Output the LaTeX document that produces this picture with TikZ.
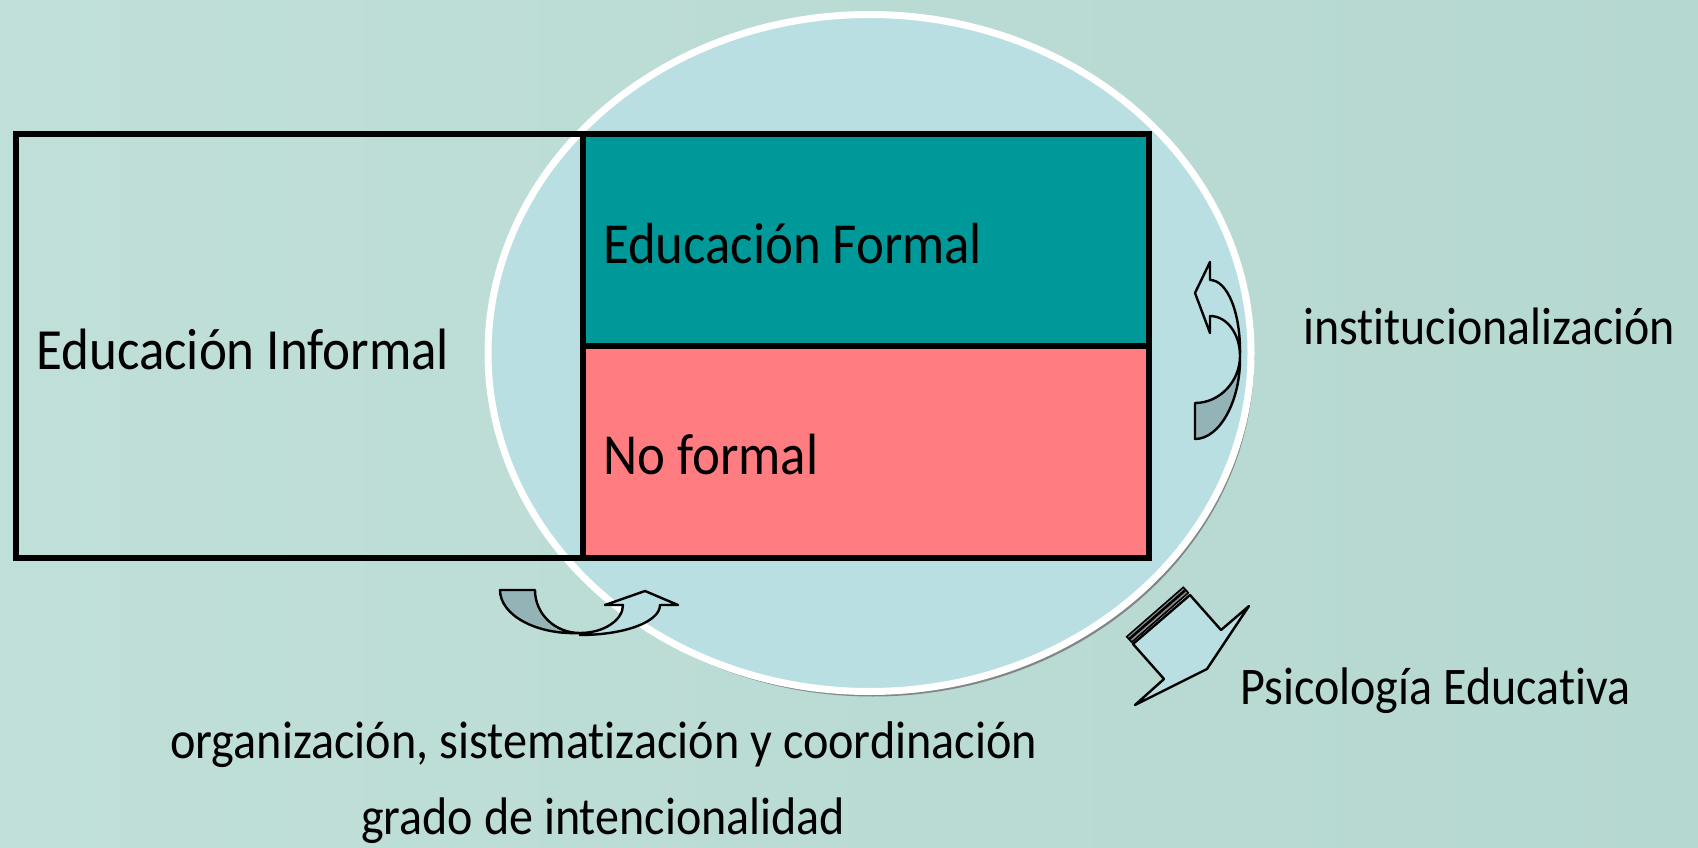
\documentclass[tikz,border=0pt]{standalone}
\usepackage{fontspec}
\setmainfont[Ligatures=NoCommon]{Carlito}
\usepackage{graphicx}
\definecolor{bgA}{HTML}{C0DFD9}
\definecolor{bgB}{HTML}{B5D8D0}
\definecolor{ellfill}{HTML}{B9DFE2}
\definecolor{teal}{HTML}{009999}
\definecolor{pinkbox}{HTML}{FF7C80}
\definecolor{darkarrow}{HTML}{94B3B6}
\newcommand\fitw[2]{\scalebox{1}[1.1]{\resizebox{#1pt}{!}{#2}}}
\tikzset{
  boxline/.style={draw=black, line width=6pt},
  arrowpart/.style={draw=black, line width=2.4pt, line join=round},
  stripe/.style={draw=black, line width=1.6pt, fill=black!45},
  lbl/.style={inner sep=0pt, anchor=base west, text=black},
}
\begin{document}
\begin{tikzpicture}[x=1pt,y=-1pt]
\useasboundingbox (0,0) rectangle (1698,848);
\shade[left color=bgA, right color=bgB] (0,0) rectangle (1698,848);
% ellipse with shadow
\fill[black!55, opacity=0.8] (872.5,358) ellipse [x radius=381.5, y radius=338.5];
\filldraw[fill=ellfill, draw=white, line width=7pt] (869.5,353) ellipse [x radius=381.5, y radius=338.5];
% boxes
\fill[teal] (583,134.5) rectangle (1149,346);
\fill[pinkbox] (583,346) rectangle (1149,558);
\draw[boxline] (16,134.5) rectangle (1149,558);
\draw[boxline] (583,134.5) -- (583,558);
\draw[boxline] (583,346) -- (1149,346);
% texts
\node[lbl] (formal) at (603,263) {\fitw{379}{Educación Formal}};
\node[lbl] (informal) at (36,369) {\fitw{413}{Educación Informal}};
\node[lbl] (noformal) at (603,474) {\fitw{215}{No formal}};
\node[lbl] (inst) at (1303,344) {\fitw{372}{institucionalización}};
\node[lbl] (psico) at (1240,704) {\fitw{390}{Psicología Educativa}};
\node[lbl] (org) at (170,758) {\fitw{867}{organización, sistematización y coordinación}};
\node[lbl] (grado) at (361,834) {\fitw{484}{grado de intencionalidad}};
% bottom-left curved arrow
\filldraw[arrowpart, fill=darkarrow] (500,590) -- (535,590) .. controls (535,614) and (555,633) .. (580,633) .. controls (536,635) and (500,615) .. (500,590) -- cycle;
\filldraw[arrowpart, fill=ellfill] (580,635) .. controls (624,635) and (660,622) .. (660,605) -- (678,605) -- (645,591) -- (605,605) -- (623,605) .. controls (623,620) and (604,633) .. (580,633) -- cycle;
% right curved arrow
\filldraw[arrowpart, fill=darkarrow] (1195,403) .. controls (1220,403) and (1240,381) .. (1240,356) .. controls (1241,400) and (1220,439) .. (1195,439) -- cycle;
\filldraw[arrowpart, fill=ellfill] (1240,356) .. controls (1241,312) and (1227,280) .. (1210,280) -- (1210,262) -- (1195,293) -- (1210,333) -- (1210,316) .. controls (1227,316) and (1240,334) .. (1240,356) -- cycle;
% striped block arrow
\filldraw[arrowpart, fill=ellfill] (1133,644) -- (1190,595) -- (1221,630) -- (1249,606) -- (1207,669) -- (1135,705) -- (1164,679) -- cycle;
\filldraw[stripe] (1126.7,636.7) -- (1183.3,587.3) -- (1185.3,589.5) -- (1128.7,638.9) -- cycle;
\filldraw[stripe] (1129.4,639.6) -- (1186,590.2) -- (1188.3,592.8) -- (1131.7,642.2) -- cycle;
\end{tikzpicture}
\end{document}
